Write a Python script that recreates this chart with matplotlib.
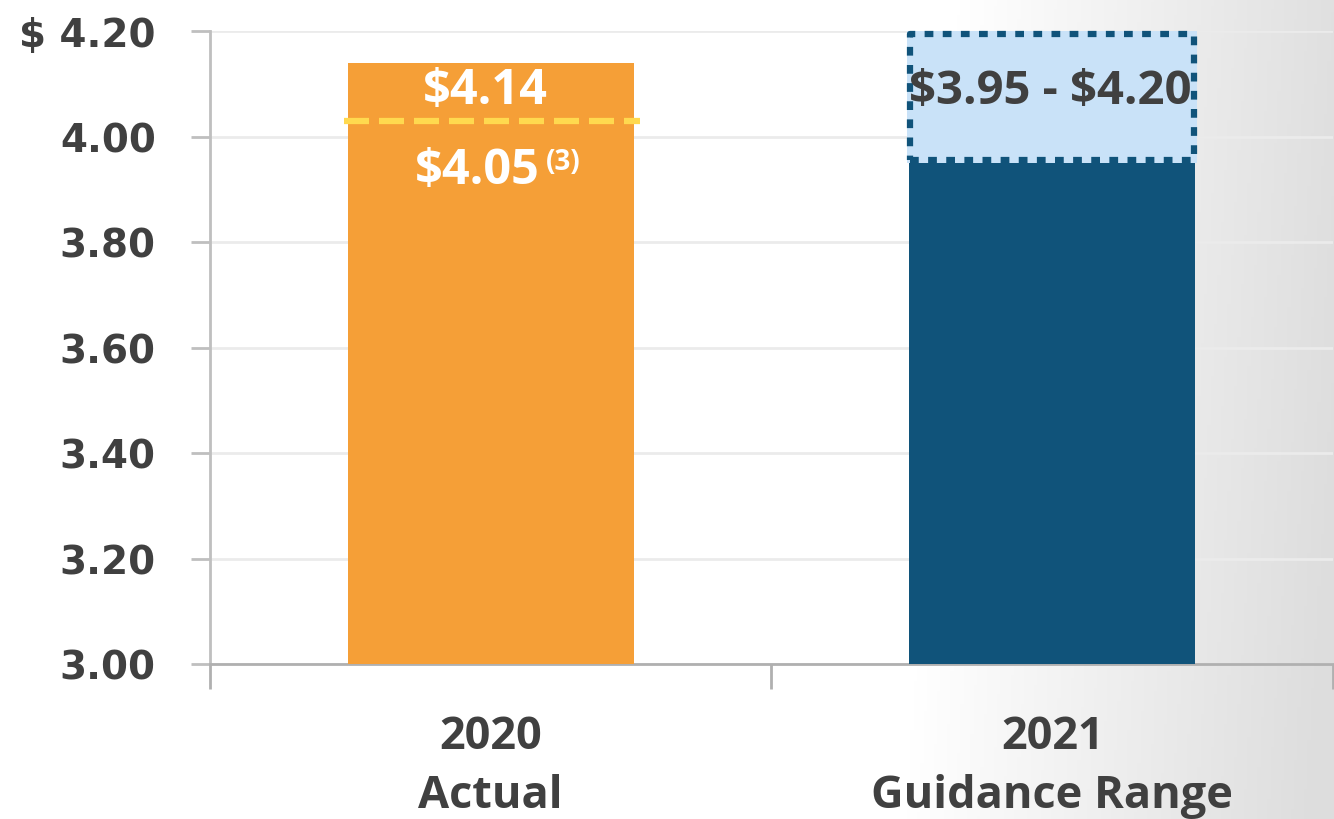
import numpy as np
import matplotlib
matplotlib.use("Agg")
import matplotlib.pyplot as plt
from matplotlib.patches import Rectangle

categories = ["2020\nActual", "2021\nGuidance Range"]
bar_values = [4.14, 3.95]
guidance_low = 3.95
guidance_high = 4.20
adjusted_line = 4.03
label_2020 = "$4.14"
label_adjusted = "$4.05"
label_range = "$3.95 - $4.20"
yticks = [3.00, 3.20, 3.40, 3.60, 3.80, 4.00, 4.20]
ytick_labels = ["3.00", "3.20", "3.40", "3.60", "3.80", "4.00", "$ 4.20"]

W, H = 1334, 820
fig = plt.figure(figsize=(W / 100, H / 100), dpi=100)

# background gradient
bg = fig.add_axes([0, 0, 1, 1], zorder=-10)
xx, yy = np.meshgrid(np.linspace(0, 1, 400), np.linspace(0, 1, 250))
t = np.clip((xx - 0.70 + 0.04 * (yy - 0.5)) / 0.30, 0, 1)
val = 1.0 - 0.13 * t
bg.imshow(np.dstack([val, val, val]), extent=[0, 1, 0, 1], aspect="auto", origin="upper")
bg.axis("off")

ax = fig.add_axes([210 / W, 1 - 665 / H, 1123 / W, 633 / H])
ax.patch.set_alpha(0)

x = np.arange(len(categories))
bw = 0.51
colors = ["#F59F37", "#10537A"]
ax.bar(x, np.array(bar_values) - 3.0, bottom=3.0, width=bw, color=colors, zorder=3)

# guidance box
gw = 0.517
ax.add_patch(Rectangle((x[1] - gw / 2, guidance_low), gw, guidance_high - guidance_low,
                       facecolor="#C9E2F8", edgecolor="none", zorder=4, clip_on=False))
ax.add_patch(Rectangle((x[1] - gw / 2 + 0.006, guidance_low + 0.006), gw - 0.012, guidance_high - guidance_low - 0.012,
                       facecolor="none", edgecolor="#10537A", lw=4.5, linestyle=(0, (1.4, 1.5)),
                       zorder=5, clip_on=False, joinstyle="round"))

# adjusted dashed line
ax.plot([x[0] - 0.262, x[0] + 0.265], [adjusted_line, adjusted_line], color="#FFD94F",
        lw=4.5, linestyle=(0, (4, 1.6)), zorder=5, solid_capstyle="butt")

lbl_font = "Open Sans"
ax.text(x[0] - 0.01, 4.088, label_2020, ha="center", va="center", color="white",
        fontsize=35, fontweight="bold", family=lbl_font, zorder=6, parse_math=False)
ax.text(x[0] - 0.024, 3.935, label_adjusted, ha="center", va="center", color="white",
        fontsize=35, fontweight="bold", family=lbl_font, zorder=6, parse_math=False)
ax.text(x[0] + 0.13, 3.952, "(3)", ha="center", va="center", color="white",
        fontsize=20, fontweight="bold", family=lbl_font, zorder=6, parse_math=False)
ax.text(x[1] - 0.003, 4.088, label_range, ha="center", va="center", color="#404040",
        fontsize=34, fontweight="bold", family=lbl_font, zorder=6, parse_math=False)

ax.set_xlim(-0.5, 1.5)
ax.set_ylim(3.0, 4.2)
ax.set_yticks(yticks)
ax.set_yticklabels(ytick_labels, fontsize=28, fontweight="bold", color="#404040",
                   family="DejaVu Sans")
ax.yaxis.grid(True, color="#EBEBEB", lw=2, zorder=0)
ax.set_axisbelow(True)
ax.tick_params(axis="y", length=14, width=2, color="#BFBFBF", pad=25)

ax.set_xticks([-0.5, 0.5, 1.5])
ax.set_xticklabels([])
ax.set_xticks(x, minor=True)
ax.set_xticklabels(categories, minor=True, fontsize=32.5, fontweight="bold",
                   color="#404040", family=lbl_font, linespacing=1.42)
ax.tick_params(axis="x", which="major", length=18, width=2, color="#B0B0B0")
ax.tick_params(axis="x", which="minor", length=0, pad=36)

for s in ["top", "right"]:
    ax.spines[s].set_visible(False)
ax.spines["left"].set_color("#BFBFBF")
ax.spines["bottom"].set_color("#B0B0B0")
for s in ["left", "bottom"]:
    ax.spines[s].set_linewidth(2)

fig.savefig("out.png", dpi=100)
